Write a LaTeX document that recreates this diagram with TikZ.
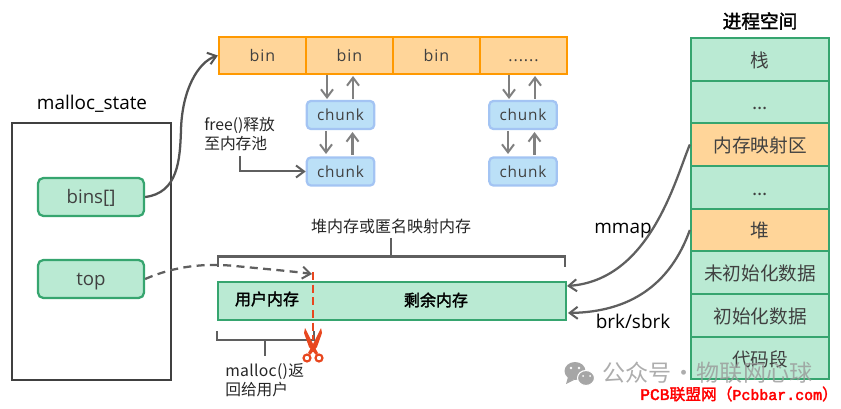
\documentclass[tikz,border=0pt]{standalone}
\usepackage{fontspec}
\setmainfont{Open Sans}
\newfontfamily\cjk{Noto Sans CJK SC}
\newfontfamily\cjkb{Noto Sans CJK SC}[FakeBold=2]
\newfontfamily\redmono{Liberation Mono}[FakeBold=2.5]
\usetikzlibrary{arrows.meta}
\definecolor{inkdark}{HTML}{404040}
\definecolor{arrowgray}{HTML}{808080}
\definecolor{linegray}{HTML}{5F5F5F}
\definecolor{orangeline}{HTML}{FF9900}
\definecolor{orangefill}{HTML}{FFD599}
\definecolor{greenline}{HTML}{36A56F}
\definecolor{greenfill}{HTML}{BAEAD3}
\definecolor{blueline}{HTML}{A3C4F3}
\definecolor{bluefill}{HTML}{BBE0F7}
\definecolor{cutred}{HTML}{E8471F}
\tikzset{
  x=0.75pt, y=-0.75pt,
  barbtip/.tip={Straight Barb[length=6pt,width=9pt,line width=1.5pt]},
  binbox/.style={draw=orangeline,fill=orangefill,line width=1.7pt,minimum width=65.25pt,minimum height=27.75pt,inner sep=0pt,text=inkdark,text height=10.5pt,text depth=1.5pt,font=\fontsize{12}{12}\selectfont\addfontfeature{LetterSpace=6}},
  chunkbox/.style={draw=blueline,fill=bluefill,line width=1.7pt,rounded corners=3pt,minimum width=50.5pt,minimum height=21pt,inner sep=0pt,text=inkdark,text height=10.5pt,text depth=1.5pt,font=\fontsize{11.5}{12}\selectfont\addfontfeature{LetterSpace=5}},
  fieldbox/.style={draw=greenline,fill=greenfill,line width=1.7pt,rounded corners=4pt,minimum width=79.5pt,minimum height=28.5pt,inner sep=0pt,text=inkdark,text height=12pt,text depth=1.5pt,font=\fontsize{14}{14}\selectfont},
  stackrow/.style={draw=greenline,fill=greenfill,line width=1.7pt,minimum width=103.5pt,inner sep=0pt,text=inkdark,text height=14pt,text depth=2pt,font=\fontsize{14}{14}\selectfont\cjk},
  stackhot/.style={stackrow,fill=orangefill},
  linkdown/.style={arrowgray,line width=1.7pt,-{barbtip}},
  note/.style={inner sep=0pt,text=black!85,font=\fontsize{11.8}{14.5}\selectfont\cjk,align=left},
  heading/.style={inner sep=0pt,text=black,font=\fontsize{14.2}{14}\selectfont},
  bracket/.style={linegray,line width=1.7pt},
  flow/.style={inkdark!90,line width=1.7pt,-{barbtip}},
}
\begin{document}
\begin{tikzpicture}
\useasboundingbox (0,0) rectangle (841,409);

% malloc_state structure
\node[draw=inkdark,line width=1.7pt,minimum width=119pt,minimum height=192.5pt,inner sep=0pt] (state) at (91.5,251.5) {};
\node[heading] (statetitle) at (92,104) {malloc\_state};
\node[fieldbox] (bins) at (91,197) {bins[]};
\node[fieldbox] (top) at (91,279) {top};

% bin array
\node[binbox] (b1) at (262.5,55.5) {bin};
\node[binbox] (b2) at (349.5,55.5) {bin};
\node[binbox] (b3) at (436.5,55.5) {bin};
\node[binbox] (b4) at (523.5,55.5) {......};

% chunk lists
\node[chunkbox] (c1) at (340.5,115) {chunk};
\node[chunkbox] (c2) at (340.5,171.5) {chunk};
\node[chunkbox] (c3) at (523,115) {chunk};
\node[chunkbox] (c4) at (523,171.5) {chunk};

\foreach \x in {327,509}{
  \draw[linkdown] (\x,75) -- (\x,99);
  \draw[linkdown] (\x+26,99) -- (\x+26,76);
  \draw[linkdown] (\x-1,131) -- (\x-1,154);
  \draw[linkdown] (\x+25.5,155) -- (\x+25.5,132);
}

% bins pointer into the array
\draw[flow] (bins.east) .. controls (178,193) and (180,160) .. (181,130)
  .. controls (182,90) and (198,62) .. (b1.west);

% freeing back to the pool
\node[note,anchor=north west] (freenote) at (204,117) {free()释放\\至内存池};
\coordinate (freestart) at (240,156);
\draw[linegray,line width=1.5pt,-{barbtip}] (freestart) |- (c2.west);

% memory region with its brackets
\node[draw=greenline,fill=greenfill,line width=1.7pt,minimum width=261pt,minimum height=28.5pt,inner sep=0pt] (region) at (392,301) {};
\node[inner sep=0pt,font=\fontsize{12}{12}\selectfont\cjkb,text=black] (used) at (267,299) {用户内存};
\node[inner sep=0pt,font=\fontsize{12}{12}\selectfont\cjkb,text=black] (rest) at (436,300) {剩余内存};

\node[note,font=\fontsize{12}{14.5}\selectfont\cjk] (regionnote) at (391,226) {堆内存或匿名映射内存};
\coordinate (rbl) at (218,267);
\coordinate (rbr) at (565,267);
\coordinate (rbm) at (391,256.5);
\draw[bracket] (rbl) |- (rbr |- rbm) -- (rbr);
\draw[bracket] (391,238) -- (rbm);

\coordinate (ubl) at (217,331);
\coordinate (ubr) at (314,331);
\draw[bracket] (ubl) -- (217,340) -- (314,340) -- (ubr);
\draw[bracket] (265,340) -- (265,356);
\node[note,anchor=north west] (mallocnote) at (225,363) {\addfontfeature{LetterSpace=2}malloc()返\\回给用户};

% split marker and scissors
\coordinate (cuttop) at (313,272);
\coordinate (cutbot) at (313,340);
\draw[cutred,line width=1.7pt,dash pattern=on 6pt off 3.5pt] (cuttop) -- (cutbot);
\begin{scope}[cutred]
  \fill (321,328) -- (322,333) -- (317,347) -- (310,355) -- (308,353) -- (313,344) -- cycle;
  \fill (305,328) -- (304,333) -- (309,347) -- (316,355) -- (318,353) -- (313,344) -- cycle;
  \draw[line width=1.6pt] (307,358) circle[radius=3.5];
  \draw[line width=1.6pt] (319,358) circle[radius=3.5];
\end{scope}

% top pointer
\draw[linegray,line width=1.7pt,dash pattern=on 6pt off 4pt,-{barbtip}] (top.east)
  .. controls (175,266) and (205,263) .. (235,266) .. controls (265,269) and (290,271) .. (312,274);

% process address space
\node[font=\fontsize{14}{14}\selectfont\cjkb,inner sep=0pt] (spacetitle) at (760,21) {进程空间};
\node[stackrow,minimum height=32pt] (s1) at (760,59.5) {栈};
\node[stackrow,minimum height=31.5pt] (s2) at (760,102) {...};
\node[stackhot,minimum height=32pt] (s3) at (760,144.5) {内存映射区};
\node[stackrow,minimum height=32pt] (s4) at (760,187.5) {...};
\node[stackhot,minimum height=31.5pt] (s5) at (760,230) {堆};
\node[stackrow,minimum height=32pt] (s6) at (760,272.5) {未初始化数据};
\node[stackrow,minimum height=32pt] (s7) at (760,315.5) {初始化数据};
\node[stackrow,minimum height=31.5pt] (s8) at (760,358) {代码段};

% system calls
\coordinate (mmapend) at (567,286);
\coordinate (brkend) at (568,313);
\draw[linegray,line width=1.7pt,-{barbtip}] (s3.west) .. controls (675,180) and (650,280) .. (mmapend);
\draw[linegray,line width=1.7pt,-{barbtip}] (s5.west) .. controls (670,285) and (630,312) .. (brkend);
\node[heading] (mmaplabel) at (623,231) {mmap};
\node[heading] (brklabel) at (633,321) {brk/sbrk};

% publisher marks
\begin{scope}
  \fill[black!35] (575,371) ellipse[x radius=10.5,y radius=9];
  \fill[black!35] (568,377) -- (566,384) -- (574,380) -- cycle;
  \draw[white,fill=black!35,line width=.8pt] (586,378) ellipse[x radius=8.5,y radius=7.5];
  \fill[white] (571,368) circle[radius=1.3] (579,368) circle[radius=1.3];
  \fill[white] (583,376) circle[radius=1] (590,376) circle[radius=1];
  \node[inner sep=0pt,anchor=west,text=black!40,text opacity=.8,font=\fontsize{17.3}{18}\selectfont\cjk] (wm) at (602,373) {公众号\kern-3pt{} · \kern-3pt{}物联网心球};
\end{scope}
\node[inner sep=0pt,anchor=west,text=red,font=\fontsize{11.2}{14}\selectfont\redmono] (pcb) at (640,394) {{\fontsize{12.2}{14}\selectfont PCB}{\fontsize{11.8}{14}\selectfont\cjkb 联盟网（}Pcbbar.com{\fontsize{11.8}{14}\selectfont\cjkb ）}};
\end{tikzpicture}
\end{document}
